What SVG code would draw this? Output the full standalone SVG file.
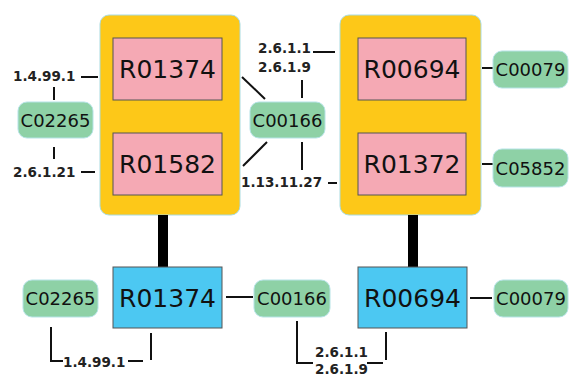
<svg xmlns="http://www.w3.org/2000/svg" width="570" height="378" viewBox="0 0 570 378">
<style>
.grp{fill:#fdc818;stroke:#a9dbe0;stroke-width:1}
.rx{fill:#f5a9b4;stroke:#555;stroke-width:1}
.rb{fill:#4cc8f2;stroke:#555;stroke-width:1}
.cp{fill:#8ed1a6;stroke:#b5e3e6;stroke-width:1}
.rt{font-family:"DejaVu Sans",sans-serif;font-size:25px;fill:#111;text-anchor:middle}
.ct{font-family:"DejaVu Sans",sans-serif;font-size:18px;fill:#111;text-anchor:middle}
.lb{font-family:"DejaVu Sans",sans-serif;font-size:13.5px;font-weight:bold;fill:#222}
.ln{stroke:#111;stroke-width:2;fill:none}
.thick{stroke:#000;stroke-width:10;fill:none}
</style>
<rect width="570" height="378" fill="#fff"/>
<g id="group1"><rect class="grp" x="100" y="15" width="140" height="200" rx="9"/></g>
<g id="group2"><rect class="grp" x="340" y="15" width="141" height="200" rx="9"/></g>
<g id="connectors">
<line class="thick" x1="163" y1="215" x2="163" y2="267"/>
<line class="thick" x1="413" y1="215" x2="413" y2="267"/>
<line class="ln" x1="81" y1="77" x2="98" y2="77"/>
<line class="ln" x1="54" y1="87" x2="54" y2="100"/>
<line class="ln" x1="81" y1="172" x2="95" y2="172"/>
<line class="ln" x1="54" y1="147" x2="54" y2="159"/>
<line class="ln" x1="242" y1="77" x2="265" y2="99"/>
<line class="ln" x1="243" y1="166" x2="267" y2="142"/>
<line class="ln" x1="313" y1="52" x2="335" y2="52"/>
<line class="ln" x1="302" y1="80" x2="302" y2="98"/>
<line class="ln" x1="302" y1="142" x2="302" y2="170"/>
<line class="ln" x1="328" y1="183" x2="337" y2="183"/>
<line class="ln" x1="482" y1="68" x2="493" y2="68"/>
<line class="ln" x1="482" y1="164" x2="493" y2="164"/>
<line class="ln" x1="226" y1="297" x2="253" y2="297"/>
<line class="ln" x1="470" y1="298" x2="492" y2="298"/>
<polyline class="ln" points="51,327 51,361 63,361"/>
<line class="ln" x1="128" y1="361" x2="143" y2="361"/>
<line class="ln" x1="151" y1="333" x2="151" y2="360"/>
<polyline class="ln" points="297,321 297,363 313,363"/>
<line class="ln" x1="367" y1="363" x2="383" y2="363"/>
<line class="ln" x1="386" y1="332" x2="386" y2="360"/>
</g>
<g id="R01374a"><rect class="rx" x="113" y="38" width="109" height="62"/><text class="rt" x="167.5" y="78">R01374</text></g>
<g id="R01582"><rect class="rx" x="113" y="133" width="109" height="62"/><text class="rt" x="167.5" y="173">R01582</text></g>
<g id="R00694a"><rect class="rx" x="358" y="38" width="108" height="62"/><text class="rt" x="412" y="78">R00694</text></g>
<g id="R01372"><rect class="rx" x="358" y="133" width="108" height="62"/><text class="rt" x="412" y="173">R01372</text></g>
<g id="R01374b"><rect class="rb" x="113" y="267" width="109" height="61"/><text class="rt" x="167.5" y="307">R01374</text></g>
<g id="R00694b"><rect class="rb" x="358" y="267" width="109" height="61"/><text class="rt" x="412.5" y="307">R00694</text></g>
<g id="C02265a"><rect class="cp" x="18" y="102" width="75" height="36" rx="9"/><text class="ct" x="55.5" y="126.5">C02265</text></g>
<g id="C00166a"><rect class="cp" x="250" y="102" width="75" height="36" rx="9"/><text class="ct" x="287.5" y="126.5">C00166</text></g>
<g id="C00079a"><rect class="cp" x="493" y="51" width="75" height="37" rx="9"/><text class="ct" x="530.5" y="76">C00079</text></g>
<g id="C05852"><rect class="cp" x="493" y="149" width="75" height="38" rx="9"/><text class="ct" x="530.5" y="174.5">C05852</text></g>
<g id="C02265b"><rect class="cp" x="23" y="280" width="75" height="37" rx="9"/><text class="ct" x="60.5" y="305">C02265</text></g>
<g id="C00166b"><rect class="cp" x="254" y="280" width="76" height="37" rx="9"/><text class="ct" x="292" y="305">C00166</text></g>
<g id="C00079b"><rect class="cp" x="494" y="280" width="74" height="37" rx="9"/><text class="ct" x="531" y="305">C00079</text></g>
<g id="labels">
<text class="lb" x="13" y="81">1.4.99.1</text>
<text class="lb" x="13" y="177">2.6.1.21</text>
<text class="lb" x="258" y="53">2.6.1.1</text>
<text class="lb" x="258" y="72">2.6.1.9</text>
<text class="lb" x="241" y="187">1.13.11.27</text>
<text class="lb" x="63" y="367">1.4.99.1</text>
<text class="lb" x="315" y="357">2.6.1.1</text>
<text class="lb" x="315" y="374">2.6.1.9</text>
</g>
</svg>
